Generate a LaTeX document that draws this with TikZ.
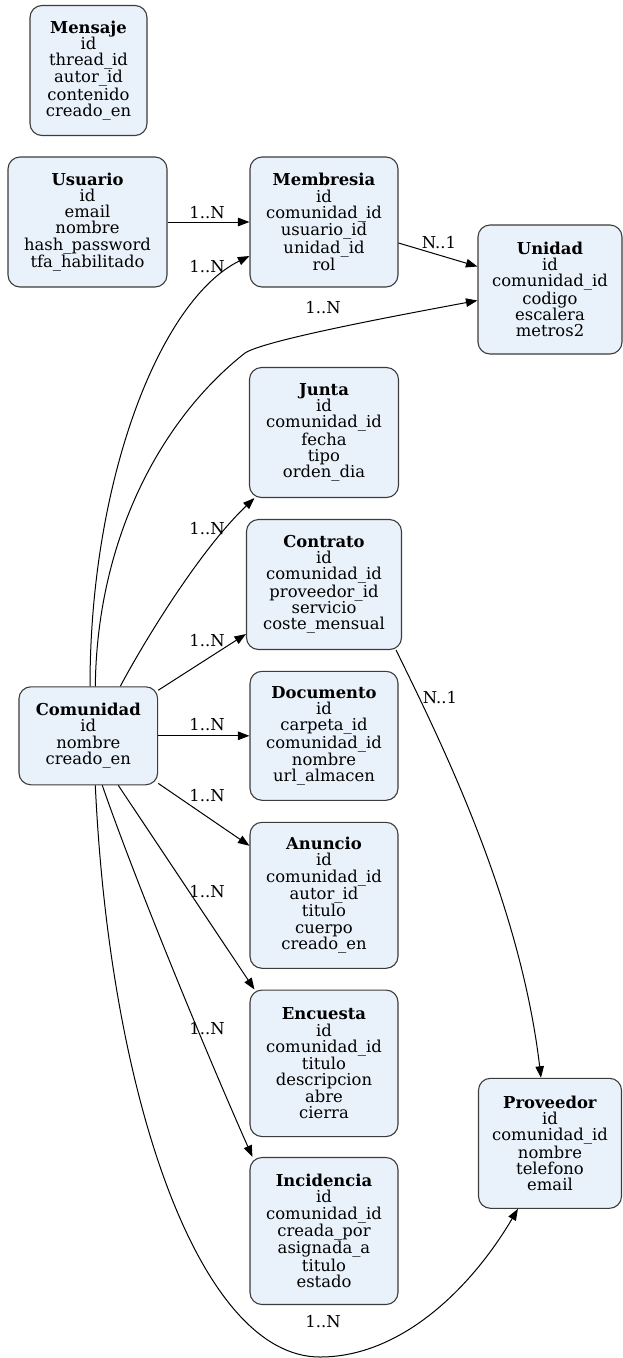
\documentclass[tikz,border=0pt]{standalone}
\usepackage{fontspec}
\setmainfont{DejaVu Serif}
\usetikzlibrary{calc,arrows.meta}
\definecolor{entfill}{RGB}{233,241,250}
\definecolor{entline}{RGB}{60,60,60}

\begin{document}
\begin{tikzpicture}[x=1pt,y=-1pt,
  entity/.style={draw=entline, line width=1.1pt, fill=entfill, rounded corners=12pt,
    align=center, inner sep=0pt, font=\fontsize{16.4}{16.3}\selectfont},
  rel/.style={draw=black, line width=1pt, -{Triangle[length=11.5pt,width=8.5pt]}},
  card/.style={font=\fontsize{16.4}{16}\selectfont, inner sep=0pt}]

\useasboundingbox (0,0) rectangle (622,1358);

% entities
\node[entity, minimum width=117pt, minimum height=130pt] (mensaje) at (88.5,70.5)
  {\textbf{Mensaje}\\id\\thread\_id\\autor\_id\\contenido\\creado\_en};
\node[entity, minimum width=159pt, minimum height=130pt] (usuario) at (87.5,222)
  {\textbf{Usuario}\\id\\email\\nombre\\hash\_password\\tfa\_habilitado};
\node[entity, minimum width=148pt, minimum height=130pt] (memb) at (324,222)
  {\textbf{Membresia}\\id\\comunidad\_id\\usuario\_id\\unidad\_id\\rol};
\node[entity, minimum width=144pt, minimum height=129pt] (unidad) at (550,289.5)
  {\textbf{Unidad}\\id\\comunidad\_id\\codigo\\escalera\\metros2};
\node[entity, minimum width=149pt, minimum height=130pt] (junta) at (324,432.5)
  {\textbf{Junta}\\id\\comunidad\_id\\fecha\\tipo\\orden\_dia};
\node[entity, minimum width=155pt, minimum height=130pt] (contrato) at (324,584.5)
  {\textbf{Contrato}\\id\\comunidad\_id\\proveedor\_id\\servicio\\coste\_mensual};
\node[entity, minimum width=148pt, minimum height=129pt] (documento) at (324,735.8)
  {\textbf{Documento}\\id\\carpeta\_id\\comunidad\_id\\nombre\\url\_almacen};
\node[entity, minimum width=148pt, minimum height=146pt] (anuncio) at (324,895.3)
  {\textbf{Anuncio}\\id\\comunidad\_id\\autor\_id\\titulo\\cuerpo\\creado\_en};
\node[entity, minimum width=148pt, minimum height=146.5pt] (encuesta) at (324,1063.3)
  {\textbf{Encuesta}\\id\\comunidad\_id\\titulo\\descripcion\\abre\\cierra};
\node[entity, minimum width=148pt, minimum height=147pt] (incidencia) at (324,1231)
  {\textbf{Incidencia}\\id\\comunidad\_id\\creada\_por\\asignada\_a\\titulo\\estado};
\node[entity, minimum width=143pt, minimum height=130pt] (proveedor) at (550,1143.3)
  {\textbf{Proveedor}\\id\\comunidad\_id\\nombre\\telefono\\email};
\node[entity, minimum width=138.7pt, minimum height=98pt] (com) at (88.3,735.8)
  {\textbf{Comunidad}\\id\\nombre\\creado\_en};

% relationships
\draw[rel] (usuario.east) -- (memb.west);
\draw[rel] ($(memb.east)+(0,21)$) -- ($(unidad.west)+(0,-23)$);
\draw[rel] ($(com.north)+(1.7,0)$) .. controls (90,480) and (160,300) .. ($(memb.west)+(0,34)$);
\draw[rel] ($(com.north)+(7,0)$) .. controls (97,540) and (160,420) .. (245,353)
  .. controls (265,340) and (400,315) .. ($(unidad.west)+(0,11)$);
\draw[rel] ($(com.north)+(32,0)$) .. controls (145,640) and (200,550) .. ($(junta.south west)+(5.5,0)$);
\draw[rel] ($(com.north east)+(0,4)$) -- ($(contrato.south west)+(0,-16)$);
\draw[rel] (com.east) -- (documento.west);
\draw[rel] ($(com.south east)+(0,-2)$) -- ($(anuncio.north west)+(0,24)$);
\draw[rel] ($(com.south)+(30,0)$) -- ($(encuesta.north west)+(5,0)$);
\draw[rel] ($(com.south)+(14,0)$) .. controls (135,880) and (205,1050) .. ($(incidencia.north west)+(3,0)$);
\draw[rel] ($(com.south)+(7,0)$) .. controls (110,1100) and (200,1357) .. (320,1357)
  .. controls (400,1357) and (470,1290) .. ($(proveedor.south west)+(40,0)$);
\draw[rel] ($(contrato.south east)+(-6,0)$) .. controls (440,740) and (520,900) .. ($(proveedor.north)+(-9,0)$);

% cardinalities
\node[card] (c1) at (207,213) {1..N};
\node[card] (c2) at (207,267) {1..N};
\node[card] (c3) at (439,243) {N..1};
\node[card] (c4) at (323,308) {1..N};
\node[card] (c5) at (207,529) {1..N};
\node[card] (c6) at (207,641) {1..N};
\node[card] (c7) at (207,725) {1..N};
\node[card] (c8) at (207,796) {1..N};
\node[card] (c9) at (207,892) {1..N};
\node[card] (c10) at (207,1029) {1..N};
\node[card] (c11) at (440,698) {N..1};
\node[card] (c12) at (323,1322) {1..N};
\end{tikzpicture}
\end{document}
